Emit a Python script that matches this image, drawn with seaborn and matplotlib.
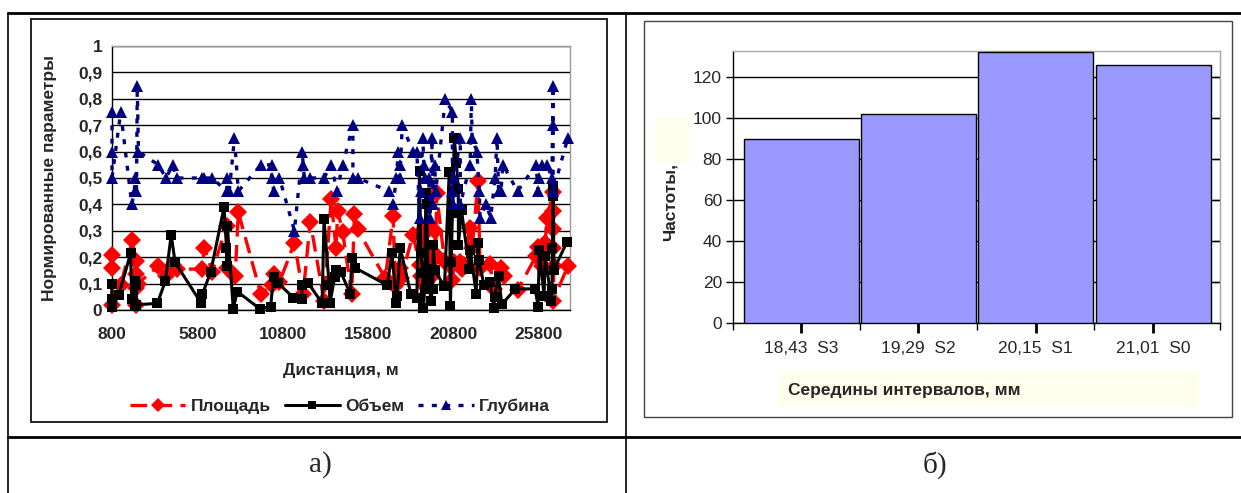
import numpy as np
import pandas as pd
import matplotlib
matplotlib.use("Agg")
import matplotlib.pyplot as plt
import seaborn as sns
from matplotlib.patches import Rectangle
from matplotlib.lines import Line2D

# ---------------- data: panel a) ----------------
area_x = [800, 800, 800, 1310, 2000, 2190, 2190, 2235, 2235, 2300, 3510, 3970, 4365, 4597,
          6055, 6217, 6680, 7514, 7560, 8023, 8208, 9528, 10153, 10292, 10616, 11495, 12005,
          12421, 13232, 13648, 13926, 14042, 14320, 14852, 15014, 15199, 16820, 17283, 17399,
          17676, 17746, 18440, 18834, 18903, 18973, 19019, 19089, 19135, 19366, 19436, 19552,
          19714, 19783, 19829, 20292, 20755, 20871, 21218, 21334, 21797, 21913, 22260, 22376,
          22955, 23186, 23603, 23765, 24575, 25663, 25779, 26010, 26196, 26311, 26659, 26659,
          26659, 26659, 26705, 26659, 27515]
area_y = [0.21, 0.16, 0.02, 0.095, 0.265, 0.185, 0.02, 0.135, 0.085, 0.10, 0.165, 0.13, 0.17, 0.155,
          0.155, 0.235, 0.145, 0.32, 0.16, 0.13, 0.37, 0.06, 0.095, 0.135, 0.105, 0.255, 0.06,
          0.335, 0.035, 0.42, 0.235, 0.375, 0.295, 0.06, 0.365, 0.305, 0.12, 0.357, 0.09,
          0.16, 0.12, 0.285, 0.172, 0.128, 0.286, 0.304, 0.229, 0.09, 0.317, 0.179, 0.128,
          0.298, 0.21, 0.443, 0.185, 0.115, 0.18, 0.18, 0.155, 0.31, 0.235, 0.49, 0.16,
          0.175, 0.08, 0.16, 0.13, 0.075, 0.205, 0.24, 0.165, 0.255, 0.35, 0.447, 0.375,
          0.305, 0.235, 0.165, 0.035, 0.165]

volume_x = [800, 800, 800, 1190, 1890, 1960, 2120, 2120, 2235, 2235, 3460, 3930, 4270, 4500,
            6010, 6100, 6590, 7370, 7510, 7540, 7560, 7910, 8140, 9460, 10100, 10270, 10520,
            11430, 11910, 11960, 12300, 13120, 13230, 13530, 13580, 13860, 13930, 14200, 14780,
            14850, 15040, 16940, 17210, 17470, 17510, 17700, 18320, 18670, 18830, 18900, 19020,
            19060, 19130, 19200, 19250, 19320, 19410, 19480, 19600, 19640, 19710, 20292, 20570,
            20640, 20690, 20755, 20870, 20990, 21100, 21110, 21290, 21750, 21800, 22150, 22260,
            22300, 22610, 22960, 23190, 23230, 23460, 23650, 24450, 25610, 25779, 25850, 26130,
            26196, 26560, 26600, 26610, 26660, 26670, 26705, 27470]
volume_y = [0.10, 0.04, 0.01, 0.055, 0.215, 0.04, 0.11, 0.015, 0.095, 0.02, 0.025, 0.11, 0.285, 0.18,
            0.028, 0.06, 0.145, 0.39, 0.235, 0.165, 0.32, 0.005, 0.07, 0.005, 0.013, 0.125, 0.103,
            0.047, 0.043, 0.093, 0.103, 0.025, 0.345, 0.094, 0.028, 0.126, 0.153, 0.145, 0.06,
            0.197, 0.16, 0.094, 0.216, 0.025, 0.053, 0.235, 0.06, 0.047, 0.528, 0.216, 0.14,
            0.009, 0.08, 0.443, 0.40, 0.155, 0.115, 0.034, 0.078, 0.248, 0.15, 0.09, 0.522,
            0.015, 0.18, 0.367, 0.65, 0.556, 0.46, 0.248, 0.377, 0.157, 0.229, 0.062, 0.252,
            0.19, 0.094, 0.106, 0.009, 0.049, 0.128, 0.021, 0.08, 0.08, 0.013, 0.229, 0.053,
            0.206, 0.034, 0.078, 0.235, 0.43, 0.47, 0.153, 0.257]

depth_x = [800, 800, 800, 1310, 1960, 2120, 2120, 2235, 2282, 2351, 3510, 3970, 4365, 4597,
           6055, 6217, 6680, 7514, 7560, 7676, 7977, 8208, 9528, 10153, 10153, 10292, 10616,
           11495, 11958, 12005, 12074, 12421, 13232, 13648, 13995, 14320, 14922, 14922, 15199,
           17051, 17283, 17468, 17584, 17676, 17676, 17815, 18440, 18672, 18834, 18903, 19019,
           19089, 19135, 19366, 19436, 19552, 19598, 19714, 19783, 20339, 20755, 20755, 20802,
           20871, 21218, 21218, 21797, 21867, 21913, 22191, 22330, 22376, 22723, 23001, 23256,
           23371, 23464, 23603, 23719, 24575, 25663, 25779, 25848, 26010, 26311, 26589, 26659,
           26659, 26659, 27515]
depth_y = [0.75, 0.6, 0.5, 0.75, 0.4, 0.45, 0.5, 0.45, 0.85, 0.6, 0.55, 0.5, 0.55, 0.5,
           0.5, 0.5, 0.5, 0.45, 0.5, 0.45, 0.65, 0.45, 0.55, 0.55, 0.5, 0.45, 0.5,
           0.3, 0.6, 0.55, 0.5, 0.5, 0.5, 0.55, 0.45, 0.55, 0.7, 0.5, 0.5,
           0.45, 0.4, 0.5, 0.6, 0.55, 0.5, 0.7, 0.6, 0.6, 0.35, 0.45, 0.65,
           0.55, 0.5, 0.5, 0.35, 0.65, 0.4, 0.55, 0.45, 0.8, 0.75, 0.45, 0.4,
           0.5, 0.65, 0.4, 0.55, 0.8, 0.65, 0.6, 0.45, 0.35, 0.4, 0.35, 0.5,
           0.65, 0.45, 0.45, 0.55, 0.45, 0.55, 0.45, 0.5, 0.55, 0.55, 0.5, 0.85,
           0.7, 0.45, 0.65]

series_names = ["Площадь", "Объем", "Глубина"]
x_ticks_a = [800, 5800, 10800, 15800, 20800, 25800]
y_ticks_a = [0, 0.1, 0.2, 0.3, 0.4, 0.5, 0.6, 0.7, 0.8, 0.9, 1]
y_ticklabels_a = ["0", "0,1", "0,2", "0,3", "0,4", "0,5", "0,6", "0,7", "0,8", "0,9", "1"]

# ---------------- data: panel б) ----------------
bins = ["18,43  S3", "19,29  S2", "20,15  S1", "21,01  S0"]
freq = [90, 102, 132.5, 126]
y_ticks_b = [0, 20, 40, 60, 80, 100, 120]

# ---------------- figure ----------------
sns.set_style("white")
plt.rcParams['font.family'] = ['Liberation Sans', 'DejaVu Sans']

W, H = 1241, 493
fig = plt.figure(figsize=(W / 100, H / 100), dpi=100)


def fx(px):
    return px / W


def fy(py):
    return 1 - py / H


def rect(x0, y0, x1, y1):
    return [fx(x0), fy(y1), (x1 - x0) / W, (y1 - y0) / H]


# table borders
for (xa, ya, xb, yb, lw) in [(8, 13, 1241, 13, 2.0), (8, 437, 1241, 437, 2.0),
                              (8, 13, 8, 493, 1.2), (626, 13, 626, 493, 1.2)]:
    fig.add_artist(Line2D([fx(xa), fx(xb)], [fy(ya), fy(yb)], color="black", lw=lw,
                          transform=fig.transFigure))

# chart frames
fig.add_artist(Rectangle((fx(31), fy(422)), (607 - 31) / W, (422 - 19) / H, fill=False,
                         edgecolor="#222222", lw=1.4, transform=fig.transFigure))
fig.add_artist(Rectangle((fx(644), fy(417)), (1232 - 644) / W, (417 - 21) / H, fill=False,
                         edgecolor="#444444", lw=1.0, transform=fig.transFigure))

# ---------------- panel a ----------------
ax1 = fig.add_axes(rect(112, 46, 570, 310))
df_area = pd.DataFrame({"x": area_x, "y": area_y})
df_vol = pd.DataFrame({"x": volume_x, "y": volume_y})
df_dep = pd.DataFrame({"x": depth_x, "y": depth_y})

sns.lineplot(data=df_area, x="x", y="y", ax=ax1, estimator=None, sort=False, color="#FF0000",
             marker="D", markersize=9, markeredgewidth=0, linewidth=2.4, clip_on=False, zorder=3)
sns.lineplot(data=df_vol, x="x", y="y", ax=ax1, estimator=None, sort=False, color="black",
             marker="s", markersize=6.5, markeredgewidth=0, linewidth=2.2, clip_on=False, zorder=4)
sns.lineplot(data=df_dep, x="x", y="y", ax=ax1, estimator=None, sort=False, color="#000080",
             marker="^", markersize=8, markeredgewidth=0, linewidth=2.4, clip_on=False, zorder=5)
lines = ax1.get_lines()
lines[0].set_dashes([5, 2.5])
lines[2].set_dashes([1.5, 2.5])

ax1.set_xlim(800, 27650)
ax1.set_ylim(0, 1)
ax1.set_xticks(x_ticks_a)
ax1.set_xticklabels([str(v) for v in x_ticks_a], fontsize=12.5, fontweight="bold")
ax1.set_yticks(y_ticks_a)
ax1.set_yticklabels(y_ticklabels_a, fontsize=12.5, fontweight="bold")
ax1.tick_params(axis="both", direction="out", length=4, width=1, color="black", pad=3)
ax1.tick_params(axis="x", pad=8)
ax1.yaxis.grid(True, color="black", lw=1)
ax1.set_axisbelow(True)
for s in ["left", "bottom"]:
    ax1.spines[s].set_color("black")
    ax1.spines[s].set_linewidth(1)
for s in ["top", "right"]:
    ax1.spines[s].set_color("#999999")
    ax1.spines[s].set_linewidth(1)
ax1.set_xlabel("Дистанция, м", fontsize=12.5, fontweight="bold")
ax1.set_ylabel("Нормированные параметры", fontsize=12.5, fontweight="bold")
ax1.xaxis.set_label_coords((341 - 112) / (570 - 112), -(363 - 310) / (310 - 46))
ax1.yaxis.set_label_coords(-(112 - 57) / (570 - 112), 0.5)

handles = [Line2D([], [], color="#FF0000", marker="D", markersize=7, markeredgewidth=0, lw=2.4,
                  dashes=[5, 2.5]),
           Line2D([], [], color="black", marker="s", markersize=6, markeredgewidth=0, lw=2.2),
           Line2D([], [], color="#000080", marker="^", markersize=7, markeredgewidth=0, lw=2.4,
                  dashes=[1.5, 2.5])]
fig.legend(handles, series_names, loc="center", bbox_to_anchor=(fx(340), fy(406)), ncol=3,
           frameon=False, handlelength=3.2, handletextpad=0.3, columnspacing=0.8,
           prop={"size": 12.5, "weight": "bold"})

# ---------------- panel b ----------------
ax2 = fig.add_axes(rect(733, 51, 1220, 323))
df_b = pd.DataFrame({"bin": bins, "freq": freq})
sns.barplot(data=df_b, x="bin", y="freq", ax=ax2, color="#9999FF", saturation=1,
            edgecolor="black", linewidth=1, width=0.98, zorder=3)
ax2.set_xlim(-0.58, 3.57)
ax2.set_ylim(0, 132.8)
ax2.set_yticks(y_ticks_b)
ax2.set_yticklabels([str(v) for v in y_ticks_b], fontsize=12.5)
ax2.yaxis.grid(True, color="black", lw=1)
ax2.set_axisbelow(True)
ax2.tick_params(axis="y", direction="out", length=5, width=1, color="black", pad=3, left=True)
ax2.set_xticks(range(len(bins)))
ax2.set_xticklabels(bins, fontsize=12.5)
ax2.tick_params(axis="x", which="major", direction="inout", length=14, width=2, color="black",
                pad=6, bottom=True)
ax2.set_xticks([-0.58, 0.5, 1.5, 2.5, 3.57], minor=True)
ax2.tick_params(axis="x", which="minor", direction="out", length=5, width=1, color="black",
                bottom=True)
for s in ["left", "bottom"]:
    ax2.spines[s].set_color("black")
    ax2.spines[s].set_linewidth(1)
for s in ["top", "right"]:
    ax2.spines[s].set_color("#AAAAAA")
    ax2.spines[s].set_linewidth(1)
sec = ax2.secondary_yaxis("right")
sec.set_yticks(y_ticks_b[1:])
sec.tick_params(direction="in", length=5, width=1, color="black", labelright=False)
sec.spines["right"].set_color("#AAAAAA")

ax2.set_xlabel("")
ax2.set_ylabel("")
# label backgrounds (light yellow)
fig.add_artist(Rectangle((fx(778), fy(408)), (1199 - 778) / W, (408 - 371) / H,
                         facecolor="#FFFFEE", edgecolor="none", transform=fig.transFigure))
fig.add_artist(Rectangle((fx(655), fy(164)), (691 - 655) / W, (164 - 117) / H,
                         facecolor="#FFFFEE", edgecolor="none", transform=fig.transFigure,
                         zorder=0.5))
fig.text(fx(788), fy(390), "Середины интервалов, мм", fontsize=12.5, fontweight="bold",
         ha="left", va="center")
fig.text(fx(670), fy(202), "Частоты,", fontsize=12.5, fontweight="bold", rotation=90,
         ha="center", va="center")

# ---------------- panel captions ----------------
fig.text(fx(320), fy(465), "а)", fontsize=21, family=["Liberation Serif", "DejaVu Serif"],
         ha="center", va="center")
fig.text(fx(935), fy(465), "б)", fontsize=21, family=["Liberation Serif", "DejaVu Serif"],
         ha="center", va="center")

fig.savefig("out.png", dpi=100)
